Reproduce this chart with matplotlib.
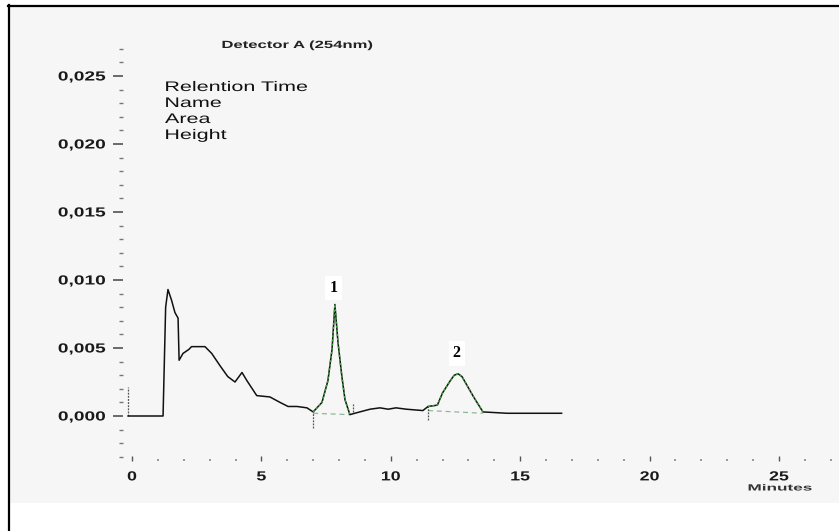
import matplotlib
matplotlib.use("Agg")
import matplotlib.pyplot as plt
from matplotlib import patheffects
from matplotlib.lines import Line2D
from matplotlib.patches import Rectangle
from matplotlib.transforms import Affine2D

# ---- chromatogram trace (minutes, absorbance units) ----
time_min = [-0.15, 1.20, 1.30, 1.39, 1.53, 1.66, 1.78, 1.82, 1.97, 2.20, 2.30,
            2.82, 3.08, 3.40, 3.70, 3.98, 4.25, 4.44, 4.82, 5.33, 5.72, 6.03,
            6.38, 6.76, 7.00, 7.34, 7.57, 7.73, 7.84, 7.96, 8.11, 8.23, 8.42,
            8.80, 9.20, 9.58, 9.90, 10.20, 10.60, 11.24, 11.44, 11.80, 12.00,
            12.30, 12.45, 12.60, 12.75, 12.90, 13.20, 13.56, 14.50, 16.60]
signal_au = [0.0000, 0.0000, 0.0080, 0.0093, 0.0085, 0.0076, 0.0072, 0.0041,
             0.0046, 0.0049, 0.0051, 0.0051, 0.0046, 0.0037, 0.0029, 0.0025,
             0.0032, 0.0026, 0.0015, 0.0014, 0.0010, 0.0007, 0.0007, 0.0006,
             0.0003, 0.0010, 0.0026, 0.0049, 0.0082, 0.0054, 0.0029, 0.0012,
             0.0001, 0.0003, 0.0005, 0.0006, 0.0005, 0.0006, 0.0005, 0.0004,
             0.0007, 0.0008, 0.0017, 0.0026, 0.0030, 0.0031, 0.0029, 0.0024,
             0.0014, 0.0003, 0.0002, 0.0002]

# integrated peaks: (start, end) of fitted region and baseline values
peak_names = ["1", "2"]
peak_apex_t = [7.84, 12.60]
peak_apex_v = [0.0082, 0.0031]
peak_start_t = [7.00, 11.44]
peak_end_t = [8.42, 13.56]
peak_base_start_v = [0.0002, 0.0004]
peak_base_end_v = [0.0001, 0.0002]

# integration event marks (time, low, high)
event_t = [-0.15, 7.00, 8.55, 11.45]
event_lo = [0.0000, -0.0009, 0.0003, -0.0003]
event_hi = [0.0021, 0.0003, 0.0009, 0.0008]

legend_lines = ["Relention Time", "Name", "Area", "Height"]
y_major = [0.000, 0.005, 0.010, 0.015, 0.020, 0.025]
y_labels = ["0,000", "0,005", "0,010", "0,015", "0,020", "0,025"]
x_major = [0, 5, 10, 15, 20, 25]
x_labels = ["0", "5", "10", "15", "20", "25"]


class HStretch(patheffects.AbstractPathEffect):
    """Widen glyph outlines horizontally around a chosen anchor."""

    def __init__(self, sx, anchor="left"):
        super().__init__()
        self.sx = sx
        self.anchor = anchor

    def draw_path(self, renderer, gc, tpath, affine, rgbFace=None):
        bb = tpath.get_extents(affine)
        x0 = {"left": bb.x0, "center": 0.5 * (bb.x0 + bb.x1), "right": bb.x1}[self.anchor]
        aff = affine + Affine2D().translate(-x0, 0).scale(self.sx, 1.0).translate(x0, 0)
        renderer.draw_path(gc, tpath, aff, rgbFace)


W, H = 839, 531
fig = plt.figure(figsize=(W / 100, H / 100), dpi=100)
fig.patch.set_facecolor("white")


def fx(px):
    return px / W


def fy(py):
    return 1 - py / H


# scanned page panel and its frame
fig.patches.append(Rectangle((fx(10), fy(503)), fx(839) - fx(10), fy(7) - fy(503),
                             transform=fig.transFigure, facecolor="#f6f6f6",
                             edgecolor="none", zorder=-10))
fig.lines.append(Line2D([fx(8), fx(839)], [fy(6), fy(6)], transform=fig.transFigure,
                        color="black", lw=1.6, zorder=-5))
fig.lines.append(Line2D([fx(9), fx(9)], [fy(5), fy(531)], transform=fig.transFigure,
                        color="black", lw=1.6, zorder=-5))

# plotting area: left spine at px 123, bottom at px 461
left, right, top, bottom = 123, 835, 30, 461
ax = fig.add_axes([fx(left), fy(bottom), fx(right) - fx(left), fy(top) - fy(bottom)])
ax.set_facecolor("none")
ax.set_zorder(1)
ppm = 25.88      # pixels per minute
ppu = 13600.0    # pixels per AU
ax.set_xlim((left - 132) / ppm, (right - 132) / ppm)
ax.set_ylim((416 - bottom) / ppu, (416 - top) / ppu)
for s in ax.spines.values():
    s.set_visible(False)

tick_font = dict(family="Liberation Sans", size=9.5, weight="bold", color="#1a1a1a")

ax.set_yticks(y_major)
ax.set_yticklabels(y_labels, **tick_font)
ax.set_yticks([i / 1000 for i in range(-3, 28)], minor=True)
ax.tick_params(axis="y", which="major", direction="out", length=7, width=1.1,
               color="#444444", pad=5.5)
ax.tick_params(axis="y", which="minor", direction="out", length=3.2, width=1.0,
               color="#777777")
for lab in ax.get_yticklabels():
    lab.set_path_effects([HStretch(1.45, "right")])

ax.set_xticks(x_major)
ax.set_xticklabels(x_labels, **tick_font)
ax.set_xticks(range(0, 28), minor=True)
ax.tick_params(axis="x", which="major", direction="in", length=3.5, width=1.0,
               color="#555555", pad=7.5)
ax.tick_params(axis="x", which="minor", direction="in", length=1.5, width=1.2,
               color="#888888")
for lab in ax.get_xticklabels():
    lab.set_path_effects([HStretch(1.35, "center")])

# main trace
ax.plot(time_min, signal_au, color="#111111", lw=1.1, zorder=3)

# fitted peak overlays and their baselines
for i in range(len(peak_names)):
    seg_t = [t for t in time_min if peak_start_t[i] <= t <= peak_end_t[i]]
    seg_v = [v for t, v in zip(time_min, signal_au) if peak_start_t[i] <= t <= peak_end_t[i]]
    ax.plot(seg_t, seg_v, color="#3aa83a", lw=1.0, ls=(0, (1.5, 1.5)), zorder=4)
    ax.plot([peak_start_t[i], peak_end_t[i]], [peak_base_start_v[i], peak_base_end_v[i]],
            color="#8fb89a", lw=0.9, ls=(0, (4, 3)), zorder=2)
    ax.text(peak_apex_t[i] - 0.05, peak_apex_v[i] + (0.0012 if i == 0 else 0.0015),
            peak_names[i], ha="center", va="center", family="Liberation Serif",
            weight="bold", size=11.5, color="black", zorder=5,
            bbox=dict(facecolor="white", edgecolor="none", pad=3.0))

# integration event marks
for t, lo, hi in zip(event_t, event_lo, event_hi):
    ax.plot([t, t], [lo, hi], color="#555555", lw=0.9, ls=(0, (1.5, 1)), zorder=2)

# header and result legend
fig.text(fx(297), fy(45), "Detector A (254nm)", ha="center", va="center",
         family="Liberation Sans", weight="bold", size=7.5, color="#222222",
         path_effects=[HStretch(1.6, "center")])
for k, line in enumerate(legend_lines):
    fig.text(fx(165), fy(87 + 16 * k), line, ha="left", va="center",
             family="Liberation Sans", size=10, color="#111111",
             path_effects=[HStretch(1.55, "left")])
fig.text(fx(780), fy(488), "Minutes", ha="center", va="center",
         family="Liberation Sans", weight="bold", size=6.5, color="#333333",
         path_effects=[HStretch(1.9, "center")])

fig.savefig("out.png", dpi=100)
